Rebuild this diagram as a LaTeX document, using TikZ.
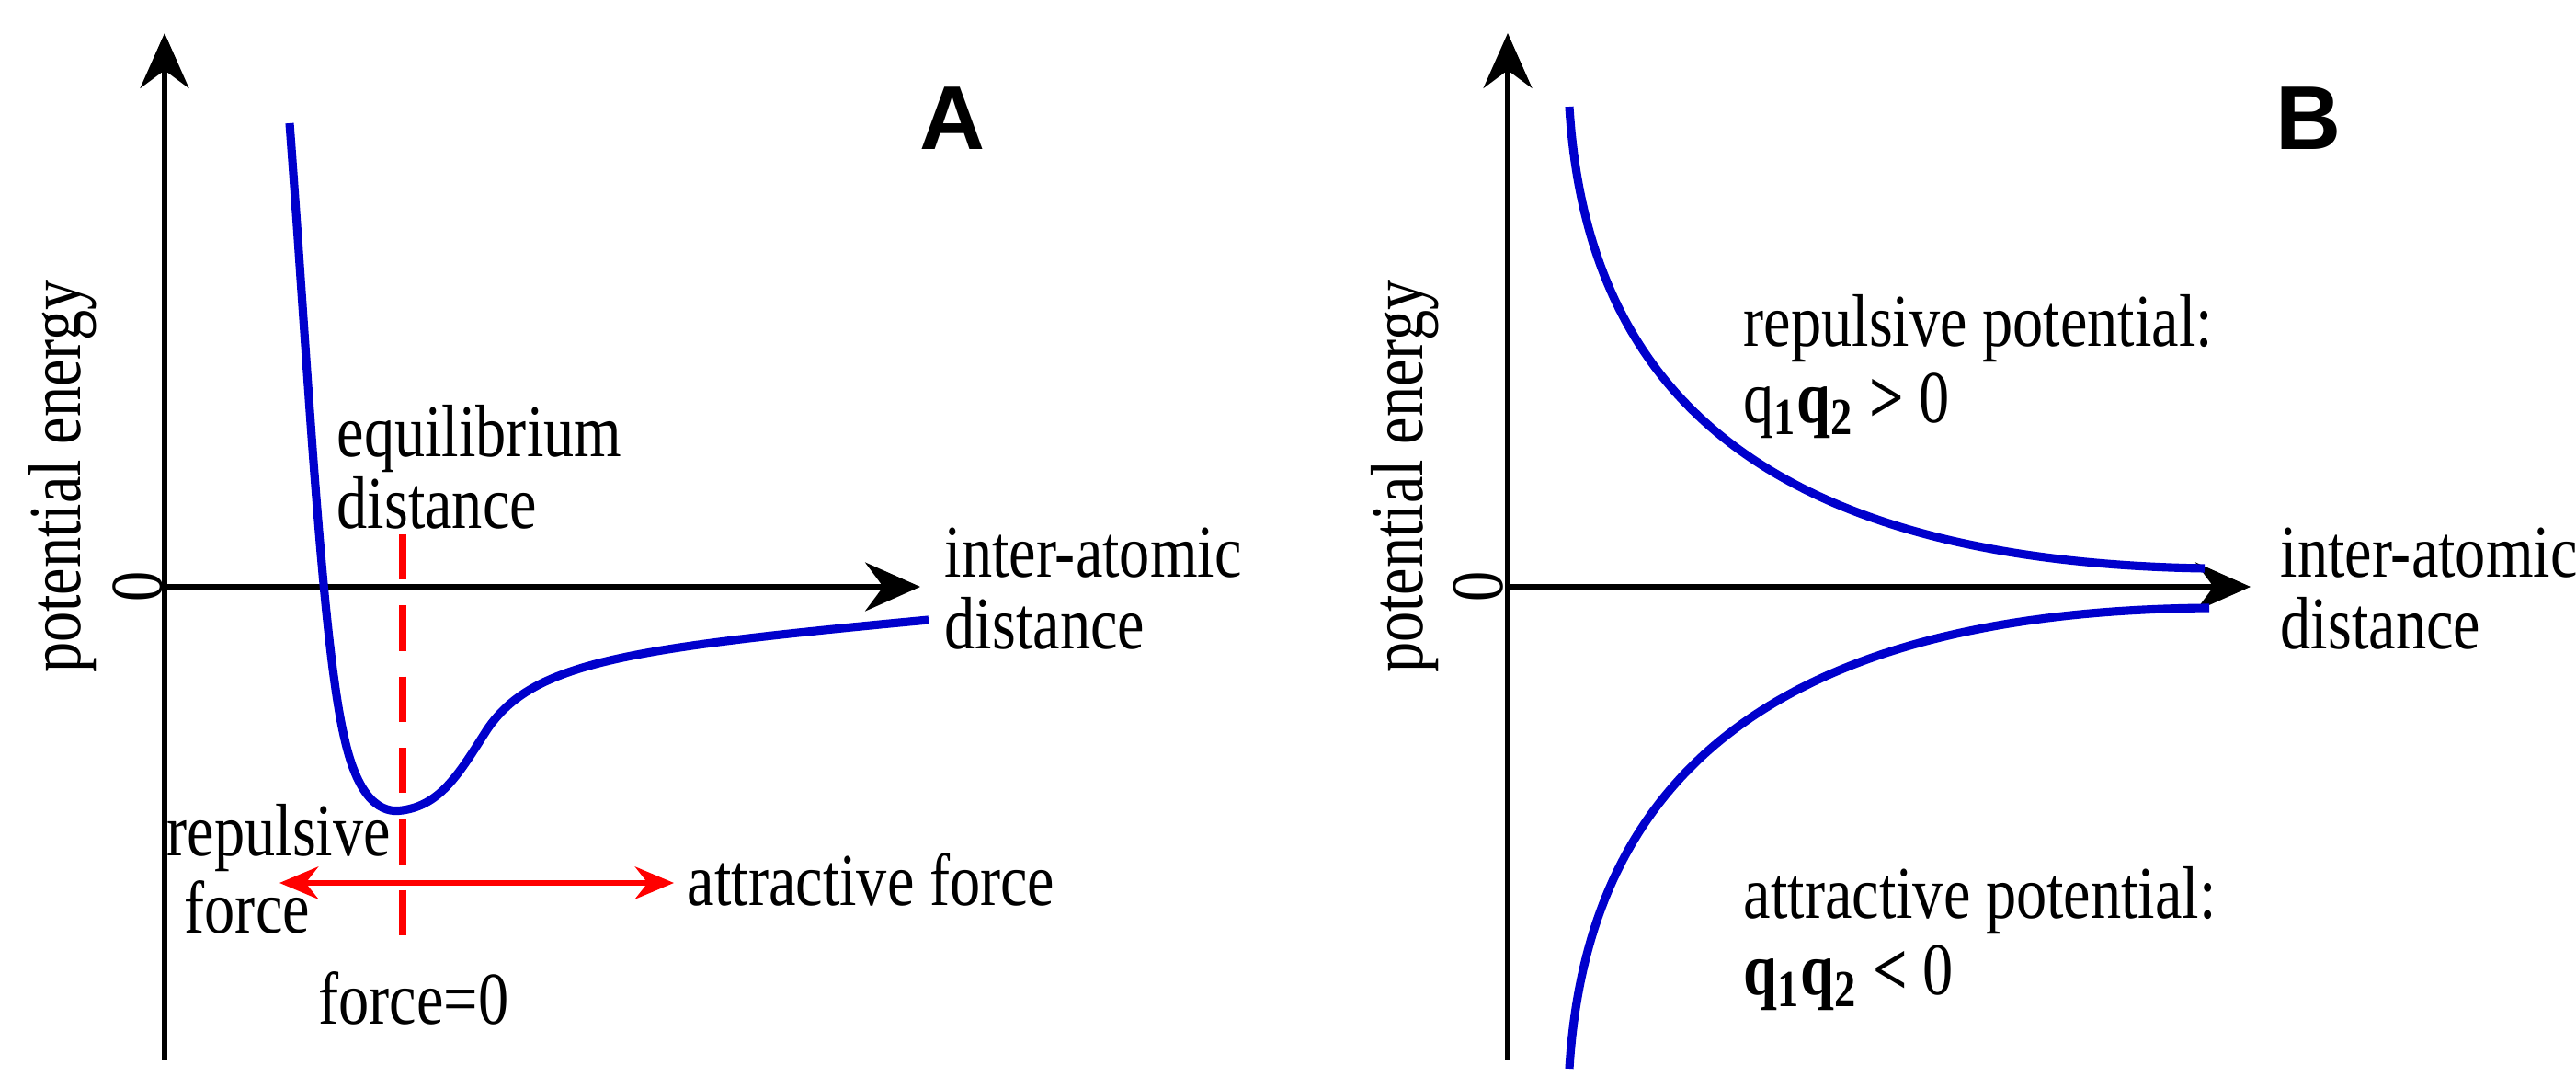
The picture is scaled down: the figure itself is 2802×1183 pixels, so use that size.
\documentclass[tikz,border=0pt]{standalone}
\usepackage{fontspec}
\setmainfont{Liberation Serif}[FakeStretch=0.82]
\setsansfont{Liberation Sans}
\usetikzlibrary{arrows.meta}
\begin{document}
\begin{tikzpicture}[x=0.01cm,y=-0.01cm,
  ax/.style={line width=1.8pt,-{Stealth[length=17pt,width=15pt]}},
  curve/.style={blue!80!black,line width=2.6pt},
  lbl/.style={font=\fontsize{23}{24}\selectfont,inner sep=0pt,align=left},
  ttl/.style={font=\sffamily\bfseries\fontsize{28}{30}\selectfont,inner sep=0pt}]
\useasboundingbox (0,0) rectangle (2802,1183);
% Panel A
\coordinate (ayb) at (179,1153); \coordinate (ayt) at (179,36);
\coordinate (axl) at (179,638); \coordinate (axr) at (1001,638);
\draw[ax] (ayb) -- (ayt);
\draw[ax] (axl) -- (axr);
\node[lbl,rotate=90] (a0) at (150,638) {0};
\node[lbl,rotate=90] (ape) at (68,518) {potential energy};
\node[ttl] (A) at (1036,129) {A};
\node[lbl,anchor=west] (aia) at (1027,640) {inter-atomic\\[-2pt]distance};
\draw[curve] (315,134) .. controls (335,400) and (350,700) .. (375,804)
  .. controls (390,870) and (415,885) .. (438,881)
  .. controls (480,875) and (500,840) .. (530,793)
  .. controls (580,720) and (680,705) .. (1010,674);
\coordinate (rdt) at (438,581); \coordinate (rdb) at (438,1045);
\draw[red,line width=2.4pt,dash pattern=on 14pt off 8pt] (rdt) -- (rdb);
\coordinate (ral) at (304,960); \coordinate (rar) at (733,960);
\draw[red,line width=1.6pt,{Stealth[length=12pt,width=10pt]}-{Stealth[length=12pt,width=10pt]}] (ral) -- (rar);
\node[lbl,anchor=west] (eq) at (366,508) {equilibrium\\[-2pt]distance};
\node[lbl,anchor=west] (rep) at (181,911) {repulsive};
\node[lbl,anchor=west] (repf) at (200,986) {force};
\node[lbl,anchor=west] (att) at (747,956) {attractive force};
\node[lbl] (f0) at (450,1085) {force=0};
% Panel B
\coordinate (byb) at (1640,1153); \coordinate (byt) at (1640,36);
\coordinate (bxl) at (1640,638); \coordinate (bxr) at (2448,638);
\draw[ax] (byb) -- (byt);
\draw[ax] (bxl) -- (bxr);
\node[lbl,rotate=90] (b0) at (1608,638) {0};
\node[lbl,rotate=90] (bpe) at (1528,518) {potential energy};
\node[ttl] (B) at (2511,129) {B};
\node[lbl,anchor=west] (bia) at (2480,640) {inter-atomic\\[-2pt]distance};
\draw[curve] (1707,116) .. controls (1725,410) and (1900,610) .. (2398,618);
\draw[curve] (1707,1162) .. controls (1725,870) and (1900,665) .. (2403,661);
\node[lbl,anchor=west] (rp) at (1896,357) {repulsive potential:};
\node[lbl,anchor=west] (rpq) at (1896,441) {q\textsubscript{\textbf{1}}\textbf{q\textsubscript{2} >} 0};
\node[lbl,anchor=west] (ap) at (1896,979) {attractive potential:};
\node[lbl,anchor=west] (apq) at (1896,1063) {\textbf{q\textsubscript{1}q\textsubscript{2} <} 0};
\end{tikzpicture}
\end{document}
